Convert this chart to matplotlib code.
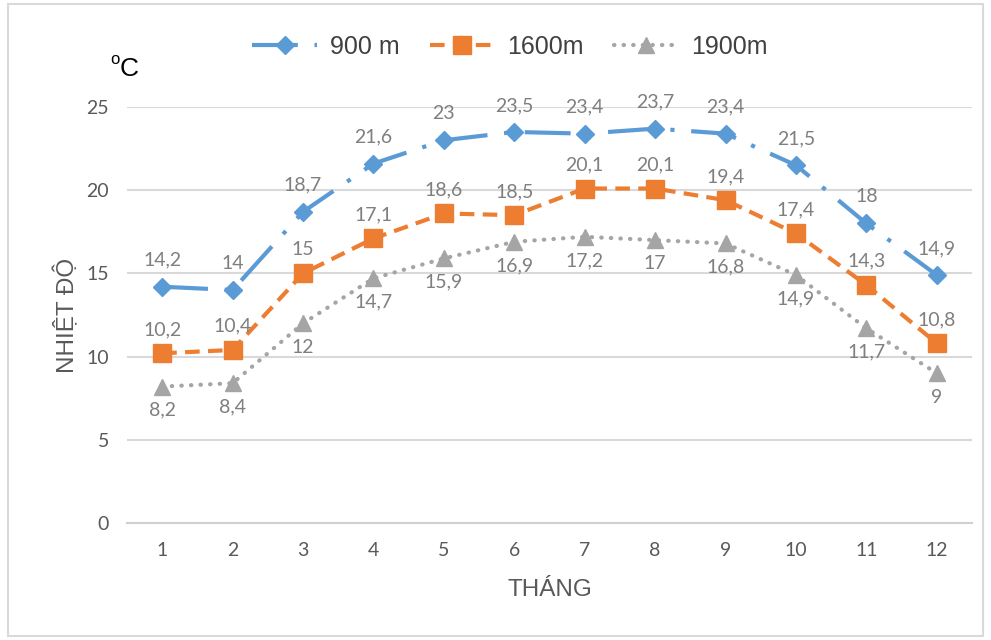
import matplotlib
matplotlib.use("Agg")
import matplotlib.pyplot as plt
from matplotlib.patches import Rectangle

months = [1, 2, 3, 4, 5, 6, 7, 8, 9, 10, 11, 12]
t900 = [14.2, 14.0, 18.7, 21.6, 23.0, 23.5, 23.4, 23.7, 23.4, 21.5, 18.0, 14.9]
t1600 = [10.2, 10.4, 15.0, 17.1, 18.6, 18.5, 20.1, 20.1, 19.4, 17.4, 14.3, 10.8]
t1900 = [8.2, 8.4, 12.0, 14.7, 15.9, 16.9, 17.2, 17.0, 16.8, 14.9, 11.7, 9.0]
series_names = ["900 m", "1600m", "1900m"]
yticks = [0, 5, 10, 15, 20, 25]

def fmt(v):
    s = ("%.1f" % v).rstrip("0").rstrip(".")
    return s.replace(".", ",")

fig = plt.figure(figsize=(9.91, 6.4), dpi=100)
fig.patches.append(Rectangle((8/991, 4/640), 1 - 16/991, 1 - 8/640, transform=fig.transFigure,
                             fill=False, edgecolor="#d9d9d9", linewidth=1.5))
ax = fig.add_axes([127/991, 1 - 523/640, (972-127)/991, (523-107)/640])

blue, orange, gray = "#5B9BD5", "#ED7D31", "#A5A5A5"
lab_col = "#7f7f7f"
numfont = "Lato"
fs_num = 14

l1, = ax.plot(months, t900, color=blue, lw=3, linestyle=(0, (11, 4, 1, 4)),
              marker="D", markersize=9, label=series_names[0], zorder=3)
l2, = ax.plot(months, t1600, color=orange, lw=3, linestyle=(0, (3.5, 2)),
              marker="s", markersize=13, label=series_names[1], zorder=3)
l3, = ax.plot(months, t1900, color=gray, lw=3, linestyle=(0, (0.1, 2.2)),
              dash_capstyle="round", marker="^", markersize=11,
              label=series_names[2], zorder=3)

for x, v in zip(months, t900):
    ax.annotate(fmt(v), (x, v), xytext=(0, 13), textcoords="offset points",
                ha="center", va="bottom", fontsize=fs_num, color=lab_col, family=numfont)
for x, v in zip(months, t1600):
    ax.annotate(fmt(v), (x, v), xytext=(0, 11), textcoords="offset points",
                ha="center", va="bottom", fontsize=fs_num, color=lab_col, family=numfont)
for x, v in zip(months, t1900):
    ax.annotate(fmt(v), (x, v), xytext=(0, -11), textcoords="offset points",
                ha="center", va="top", fontsize=fs_num, color=lab_col, family=numfont)

ax.set_xlim(0.5, 12.5)
ax.set_ylim(0, 25)
ax.set_yticks(yticks)
ax.set_xticks(months)
ax.set_yticklabels([str(t) for t in yticks], family=numfont, fontsize=fs_num, color="#595959")
ax.set_xticklabels([str(m) for m in months], family=numfont, fontsize=fs_num, color="#595959")
ax.tick_params(length=0)
ax.tick_params(axis="x", pad=14)
ax.tick_params(axis="y", pad=13)
ax.grid(axis="y", color="#d9d9d9", linewidth=1.5)
ax.set_axisbelow(True)
for s in ["top", "right", "left"]:
    ax.spines[s].set_visible(False)
ax.spines["bottom"].set_color("#d0d0d0")
ax.spines["bottom"].set_linewidth(1.5)

ax.set_xlabel("THÁNG", family="Liberation Sans", fontsize=17.5, color="#595959", labelpad=14)
ax.set_ylabel("NHIỆT ĐỘ", family="Liberation Sans", fontsize=17.5, color="#595959", labelpad=5)

fig.text(110/991, 1 - 60/640, "o", family="Liberation Sans", fontsize=12, color="black",
         va="center", ha="left")
fig.text(120/991, 1 - 69/640, "C", family="Liberation Sans", fontsize=19, color="black",
         va="center", ha="left")

fig.legend(handles=[l1, l2, l3], loc="center", bbox_to_anchor=(510/991, 1 - 47/640),
           ncol=3, frameon=False, prop={"family": "Liberation Sans", "size": 18},
           labelcolor="#404040", handlelength=2.6, columnspacing=1.2, handletextpad=0.5)

fig.savefig("out.png", dpi=100, facecolor="white")
